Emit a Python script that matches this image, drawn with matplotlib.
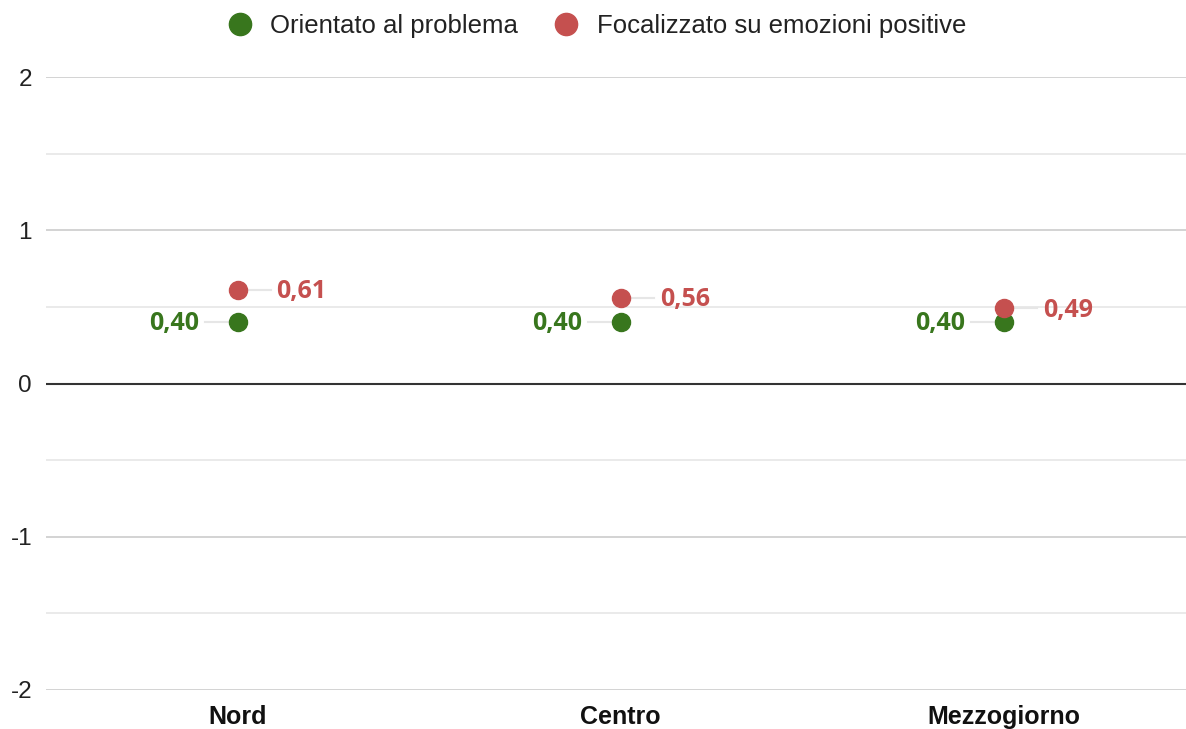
import matplotlib
matplotlib.use("Agg")
import matplotlib.pyplot as plt
from matplotlib.lines import Line2D

categories = ["Nord", "Centro", "Mezzogiorno"]
problema = [0.40, 0.40, 0.40]
emozioni = [0.61, 0.56, 0.49]
series_names = ["Orientato al problema", "Focalizzato su emozioni positive"]
yticks = [-2, -1, 0, 1, 2]

green = "#38761d"
red = "#c5504f"

fig = plt.figure(figsize=(11.86, 7.29), dpi=100)
ax = fig.add_axes([46/1186, 1-690/729, 1-46/1186, (690-77)/729])
ax.set_ylim(-2, 2)
ax.set_xlim(-0.5, 2.5 - 9.5/383)

for y in [-1.5, -0.5, 0.5, 1.5]:
    ax.axhline(y, color="#e6e6e6", lw=1.2, zorder=0)
for y in [-2, -1, 1, 2]:
    ax.axhline(y, color="#cccccc", lw=1.2, zorder=0)
ax.axhline(0, color="#333333", lw=1.5, zorder=1)

x = list(range(len(categories)))
ax.plot(x, problema, "o", color=green, ms=13, zorder=3, ls="none")
ax.plot(x, emozioni, "o", color=red, ms=13, zorder=3, ls="none")

for xi, v in zip(x, problema):
    ax.annotate(f"{v:.2f}".replace(".", ","), xy=(xi, v), xytext=(-28, -1.2),
                textcoords="offset points", ha="right", va="center",
                fontsize=18, fontweight="bold", color=green, family="Open Sans",
                zorder=4)
    ax.plot([xi - 0.086, xi - 0.026], [v, v], color="#e6e6e6", lw=1.5, zorder=2)
for xi, v in zip(x, emozioni):
    ax.annotate(f"{v:.2f}".replace(".", ","), xy=(xi, v), xytext=(28, -1.2),
                textcoords="offset points", ha="left", va="center",
                fontsize=18, fontweight="bold", color=red, family="Open Sans",
                zorder=4)
    ax.plot([xi + 0.026, xi + 0.087], [v, v], color="#e6e6e6", lw=1.5, zorder=2)

ax.set_yticks(yticks)
ax.set_yticklabels([str(t) for t in yticks], fontsize=17.5, family="Liberation Sans", color="#222222")
ax.set_xticks(x)
ax.set_xticklabels(categories, fontsize=18, fontweight="bold", family="Liberation Sans", color="#111111")
ax.tick_params(axis="y", length=0, pad=10)
ax.tick_params(axis="x", length=0, pad=11)
for s in ax.spines.values():
    s.set_visible(False)

handles = [Line2D([], [], marker="o", ls="none", color=green, ms=16),
           Line2D([], [], marker="o", ls="none", color=red, ms=16)]
fig.legend(handles, series_names, loc="center", bbox_to_anchor=(0.5 - 3/1186, 1-26/729),
           ncol=2, frameon=False, prop={"family": "Liberation Sans", "size": 18.5},
           handletextpad=0.2, columnspacing=0.85, labelcolor="#222222")

fig.savefig("out.png", dpi=100)
